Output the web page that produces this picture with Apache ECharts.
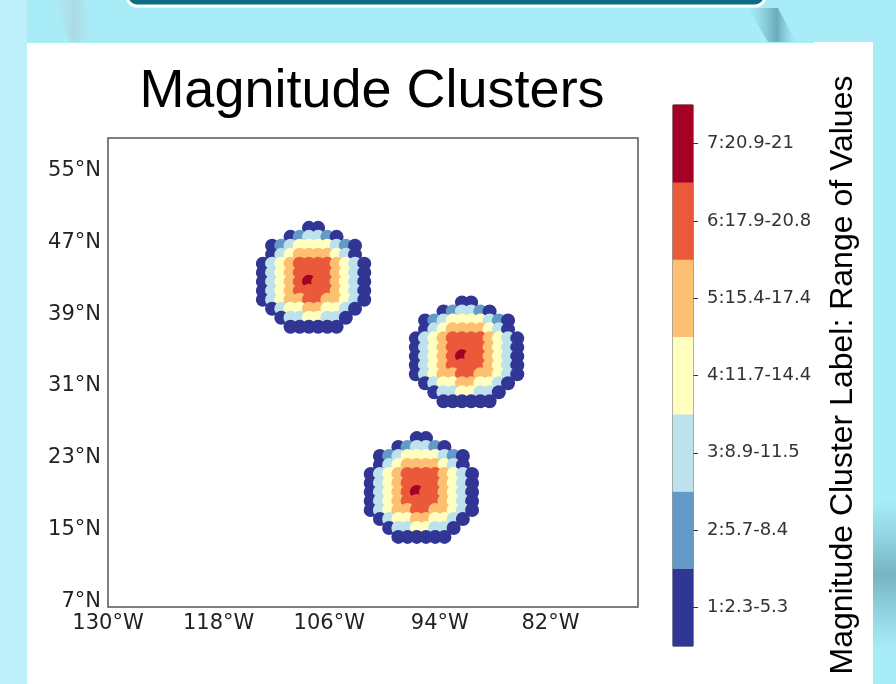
<!DOCTYPE html>
<html>
<head>
<meta charset="utf-8">
<script src="https://cdn.jsdelivr.net/npm/echarts@6/dist/echarts.min.js"></script>
<style>
  html, body { margin: 0; padding: 0; background: #a8ecf8; }
  #chart { width: 896px; height: 684px; }
</style>
</head>
<body>
<div id="chart"></div>
<script>
// Cluster classes: label text and colour of each class (1 = lowest magnitude)
const clusterLabels = ['1:2.3-5.3', '2:5.7-8.4', '3:8.9-11.5', '4:11.7-14.4', '5:15.4-17.4', '6:17.9-20.8', '7:20.9-21'];
const clusterColors = ['#313695', '#649ac7', '#bde2ee', '#ffffbf', '#fdbf71', '#ea593a', '#a50026'];

// Class of each 1-degree grid cell around an event, north row first, west column first
const footprint = [
  '.....11.....',
  '...123321...',
  '.1234444321.',
  '.1345555431.',
  '134566665431',
  '134566665431',
  '134567665431',
  '134566665431',
  '134556655431',
  '.1344554431.',
  '..13344331..',
  '...111111...'
];
const peakCol = 5;   // column of the peak cell in the footprint
const peakRow = 6;   // row of the peak cell in the footprint

// Longitude / latitude of each event's peak cell
const eventPeaks = [
  [-108.2, 42.6],
  [-91.6, 34.3],
  [-96.5, 19.2]
];

const lonTicks = [-130, -118, -106, -94, -82];
const latTicks = [7, 15, 23, 31, 39, 47, 55];
const lonExtent = [-130, -72.5];
const latExtent = [6.4, 58.6];

// Expand the footprints into [lon, lat, class] points
const points = [];
eventPeaks.forEach(([lon0, lat0]) => {
  footprint.forEach((row, r) => {
    for (let c = 0; c < row.length; c++) {
      const ch = row[c];
      if (ch === '.') continue;
      points.push([lon0 + (c - peakCol), lat0 + (peakRow - r), Number(ch)]);
    }
  });
});

const chart = echarts.init(document.getElementById('chart'), null, { renderer: 'canvas' });

const tickFont = { fontFamily: 'DejaVu Sans', color: '#222', fontSize: 21 };

chart.setOption({
  backgroundColor: '#a8ecf8',
  animation: false,
  graphic: [
    // slide backdrop
    { type: 'rect', z: -10, shape: { x: 0, y: 0, width: 27, height: 684 }, style: { fill: '#bdf0fb' } },
    { type: 'polygon', z: -9, shape: { points: [[52, 0], [84, 0], [96, 42], [70, 42]] },
      style: { fill: new echarts.graphic.LinearGradient(0, 0, 1, 0, [
        { offset: 0, color: 'rgba(190,225,232,0)' },
        { offset: 0.5, color: 'rgba(175,210,218,0.7)' },
        { offset: 1, color: 'rgba(190,225,232,0)' }]) } },
    { type: 'polygon', z: -9, shape: { points: [[748, 8], [778, 8], [796, 42], [768, 42]] },
      style: { fill: new echarts.graphic.LinearGradient(0, 0, 1, 0, [
        { offset: 0, color: 'rgba(120,190,205,0)' },
        { offset: 0.6, color: 'rgba(85,150,168,0.75)' },
        { offset: 1, color: 'rgba(120,190,205,0)' }]) } },
    { type: 'rect', z: -9, shape: { x: 873, y: 500, width: 23, height: 150 },
      style: { fill: new echarts.graphic.LinearGradient(0, 0, 0, 1, [
        { offset: 0, color: 'rgba(110,175,190,0)' },
        { offset: 0.5, color: 'rgba(95,155,170,0.7)' },
        { offset: 1, color: 'rgba(110,175,190,0)' }]) } },
    { type: 'rect', z: -8, shape: { x: 127, y: -30, width: 638, height: 36, r: 10 },
      style: { fill: '#0b6c86', stroke: '#ffffff', lineWidth: 3 } },
    // white figure panel
    { type: 'rect', z: -5, shape: { x: 27, y: 43, width: 846, height: 641 }, style: { fill: '#ffffff' } },
    { type: 'rect', z: -5, shape: { x: 814, y: 42, width: 59, height: 2 }, style: { fill: '#ffffff' } },
    // titles
    { type: 'text', z: 10, x: 372, y: 92,
      style: { text: 'Magnitude Clusters', align: 'center', verticalAlign: 'middle',
               font: '54px "Liberation Sans", Arial, sans-serif', fill: '#000' } },
    { type: 'text', z: 10, x: 843, y: 375, rotation: Math.PI / 2,
      style: { text: 'Magnitude Cluster Label: Range of Values', align: 'center', verticalAlign: 'middle',
               font: '32px "Liberation Sans", Arial, sans-serif', fill: '#000' } }
  ],
  grid: [
    { left: 108, top: 138, width: 530, height: 469, show: true, borderColor: '#555', borderWidth: 1.5, backgroundColor: 'transparent' },
    { left: 673, top: 105, width: 20, height: 541, show: true, borderColor: '#333', borderWidth: 1, backgroundColor: 'transparent' }
  ],
  xAxis: [
    { type: 'value', gridIndex: 0, min: lonExtent[0], max: lonExtent[1],
      axisLine: { show: false }, axisTick: { show: false }, splitLine: { show: false },
      axisLabel: Object.assign({ customValues: lonTicks, margin: 6, hideOverlap: false,
        formatter: v => Math.abs(v) + '°W' }, tickFont) },
    { type: 'category', gridIndex: 1, data: [''], show: false }
  ],
  yAxis: [
    { type: 'value', gridIndex: 0, min: latExtent[0], max: latExtent[1],
      axisLine: { show: false }, axisTick: { show: false }, splitLine: { show: false },
      axisLabel: Object.assign({ customValues: latTicks, margin: 7, hideOverlap: false,
        formatter: v => v + '°N' }, tickFont) },
    { type: 'category', gridIndex: 1, data: clusterLabels, position: 'right',
      axisLine: { show: false },
      axisTick: { show: true, alignWithLabel: true, length: 5, lineStyle: { color: '#333', width: 1 } },
      axisLabel: { fontFamily: 'DejaVu Sans', color: '#333', fontSize: 18, margin: 14 } }
  ],
  series: [
    {
      type: 'scatter', xAxisIndex: 0, yAxisIndex: 0, silent: true,
      symbol: 'circle', symbolSize: 14,
      data: points,
      itemStyle: { opacity: 1, color: p => clusterColors[p.value[2] - 1] }
    },
    {
      type: 'heatmap', xAxisIndex: 1, yAxisIndex: 1, silent: true,
      data: clusterLabels.map((l, i) => ({ value: [0, i, i + 1], itemStyle: { color: clusterColors[i] } }))
    }
  ]
});
</script>
</body>
</html>
